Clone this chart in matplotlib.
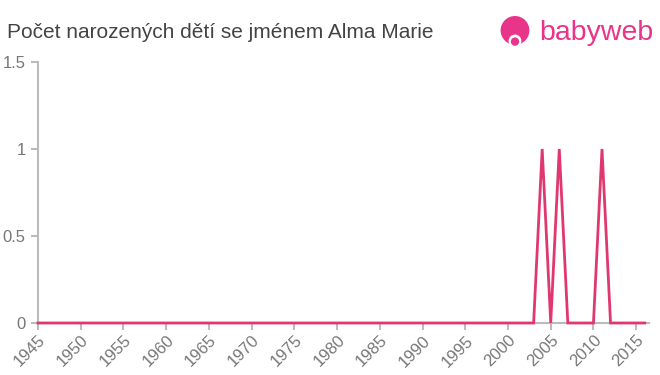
import matplotlib.pyplot as plt
from matplotlib.patches import Circle

plt.rcParams['font.family'] = ['Liberation Sans', 'DejaVu Sans']

years = list(range(1945, 2017))
births = [0] * len(years)
for y in (2004, 2006, 2011):
    births[years.index(y)] = 1

x_ticks = list(range(1945, 2020, 5))
y_ticks = [0, 0.5, 1, 1.5]
y_labels = ['0', '0.5', '1', '1.5']

title = 'Počet narozených dětí se jménem Alma Marie'

fig = plt.figure(figsize=(6.6, 3.75), dpi=100)
ax = fig.add_axes([38 / 660, 52 / 375, 611 / 660, 261 / 375])

ax.plot(years, births, color='#e0386e', linewidth=2, solid_joinstyle='miter',
        clip_on=False, zorder=5)

ax.set_xlim(1945, 2016.5)
ax.set_ylim(0, 1.5)
ax.set_xticks(x_ticks)
ax.set_xticklabels([str(t) for t in x_ticks], rotation=45, ha='right',
                   rotation_mode='anchor')
ax.set_yticks(y_ticks)
ax.set_yticklabels(y_labels)
ax.tick_params(colors='#bbbbbb', labelcolor='#777777', labelsize=12, length=5, width=1.5)
ax.tick_params(axis='x', pad=2)
ax.tick_params(axis='y', pad=4)

for side in ('top', 'right'):
    ax.spines[side].set_visible(False)
for side in ('left', 'bottom'):
    ax.spines[side].set_color('#bbbbbb')
    ax.spines[side].set_linewidth(1.5)

fig.text(7 / 660, 1 - 32 / 375, title, fontsize=15, color='#444444', va='center')

# logo
logo = '#e8358a'
lax = fig.add_axes([499 / 660, 1 - 48 / 375, 32 / 660, 32 / 375])
lax.set_xlim(0, 1)
lax.set_ylim(0, 1)
lax.axis('off')
lax.add_patch(Circle((0.5, 0.55), 0.45, facecolor=logo, edgecolor='none'))
lax.add_patch(Circle((0.5, 0.22), 0.2, facecolor='white', edgecolor='none'))
lax.add_patch(Circle((0.5, 0.2), 0.13, facecolor=logo, edgecolor='none'))
fig.text(539 / 660, 1 - 33 / 375, 'babyweb', fontsize=20.5, color=logo, va='center')

fig.savefig('out.png', dpi=100)
